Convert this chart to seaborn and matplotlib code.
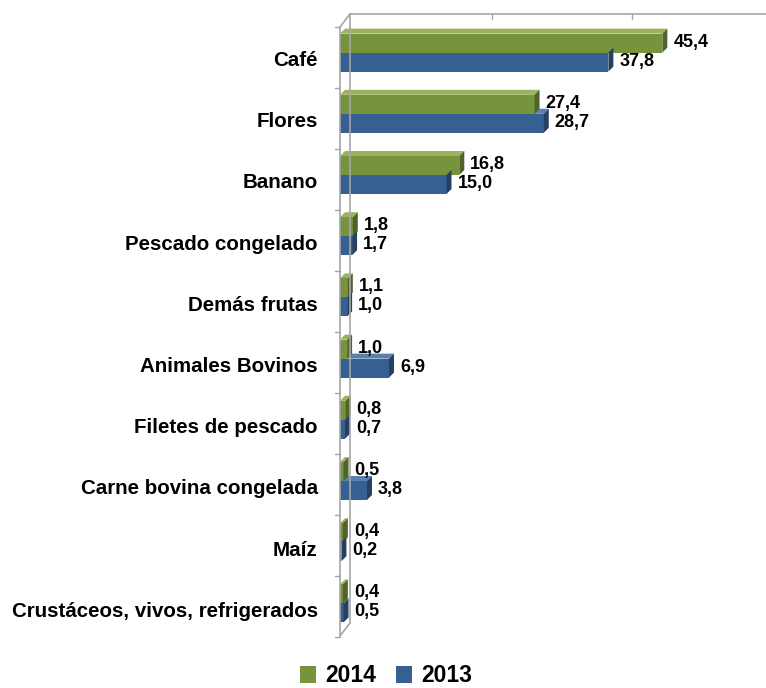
import matplotlib
matplotlib.use("Agg")
import matplotlib.pyplot as plt
import matplotlib.transforms as mtransforms
import seaborn as sns
import pandas as pd
from matplotlib.lines import Line2D
from matplotlib.patches import Polygon, Patch

categories = ["Café", "Flores", "Banano", "Pescado congelado", "Demás frutas",
              "Animales Bovinos", "Filetes de pescado", "Carne bovina congelada",
              "Maíz", "Crustáceos, vivos, refrigerados"]
years = ["2014", "2013"]
values_2014 = [45.4, 27.4, 16.8, 1.8, 1.1, 1.0, 0.8, 0.5, 0.4, 0.4]
values_2013 = [37.8, 28.7, 15.0, 1.7, 1.0, 6.9, 0.7, 3.8, 0.2, 0.5]

colors = {"2014": "#77933C", "2013": "#376092"}
side_colors = {"2014": "#4F6228", "2013": "#254061"}
top_colors = {"2014": "#9BB35E", "2013": "#5B80B0"}

df = pd.DataFrame({
    "Producto": categories * 2,
    "Año": ["2014"] * len(categories) + ["2013"] * len(categories),
    "Valor": values_2014 + values_2013,
})

sns.set_style("white")
plt.rcParams["font.family"] = ["Liberation Sans", "DejaVu Sans"]
plt.rcParams["text.color"] = "black"

W, H = 766, 688
fig = plt.figure(figsize=(W / 100, H / 100), dpi=100)
def fx(px): return px / W
def fy(py): return 1 - py / H

ax = fig.add_axes([fx(340), fy(634), fx(766) - fx(340), fy(22) - fy(634)])
sns.barplot(data=df, y="Producto", x="Valor", hue="Año", hue_order=years,
            palette=colors, orient="h", width=0.62, ax=ax, legend=False,
            saturation=1, edgecolor="none")
ax.set_xlim(0, 60)
ax.set_ylim(9.5, -0.5)
ax.set_xlabel("")
ax.set_ylabel("")
ax.set_xticks([])
for s in ax.spines.values():
    s.set_visible(False)
ax.tick_params(axis="y", length=0, pad=16, labelcolor="black")
shift = mtransforms.ScaledTranslation(0, -6 / 100, fig.dpi_scale_trans)
for lab in ax.get_yticklabels():
    lab.set_fontweight("bold")
    lab.set_fontsize(14.8)
    lab.set_color("black")
    lab.set_transform(lab.get_transform() + shift)

# 3D style side/top faces and value labels
ppx = 426 / 60.0          # pixels per x unit
ppy = 612 / 10.0          # pixels per y unit
dx = 5 / ppx
dy = 5 / ppy
for i, cont in enumerate(ax.containers):
    yr = years[i]
    for p, v in zip(cont.patches, cont.datavalues):
        p.set_zorder(2)
        x0 = p.get_x()
        x1 = x0 + p.get_width()
        y0 = p.get_y()
        y1 = y0 + p.get_height()
        side = Polygon([(x1, y0), (x1 + dx, y0 - dy), (x1 + dx, y1 - dy), (x1, y1)],
                       closed=True, facecolor=side_colors[yr], edgecolor="none", zorder=2)
        ax.add_patch(side)
        top = Polygon([(x0, y0), (x0 + dx, y0 - dy), (x1 + dx, y0 - dy), (x1, y0)],
                      closed=True, facecolor=top_colors[yr], edgecolor="none", zorder=1)
        ax.add_patch(top)
        yc = (y0 + y1) / 2 - 1 / ppy
        ax.text(x1 + 11 / ppx, yc, f"{v:.1f}".replace(".", ","), zorder=3,
                ha="left", va="center", fontsize=13, fontweight="bold", color="black")

# wall/frame lines
gray = "#A6A6A6"
lines = [
    ((340, 340), (27, 636)),
    ((350, 350), (14, 623)),
    ((340, 350), (27, 14)),
    ((340, 350), (636, 623)),
    ((350, 766), (14, 14)),
]
for xs, ys in lines:
    fig.add_artist(Line2D([fx(x) for x in xs], [fy(y) for y in ys], color=gray, lw=1.2))
for gx in [492, 632]:
    fig.add_artist(Line2D([fx(gx), fx(gx)], [fy(14), fy(19)], color=gray, lw=1))
for k in range(11):
    yy = 27 + k * 61.0
    fig.add_artist(Line2D([fx(335), fx(340)], [fy(yy), fy(yy)], color=gray, lw=1))

handles = [Patch(facecolor=colors[y], edgecolor="none") for y in years]
leg = fig.legend(handles, years, loc="center", bbox_to_anchor=(fx(386), fy(676)), ncol=2,
                 frameon=False, prop={"weight": "bold", "size": 16.5}, handlelength=0.7,
                 handleheight=0.7, handletextpad=0.4, columnspacing=0.9)
for t in leg.get_texts():
    t.set_color("black")

fig.savefig("out.png", dpi=100)
